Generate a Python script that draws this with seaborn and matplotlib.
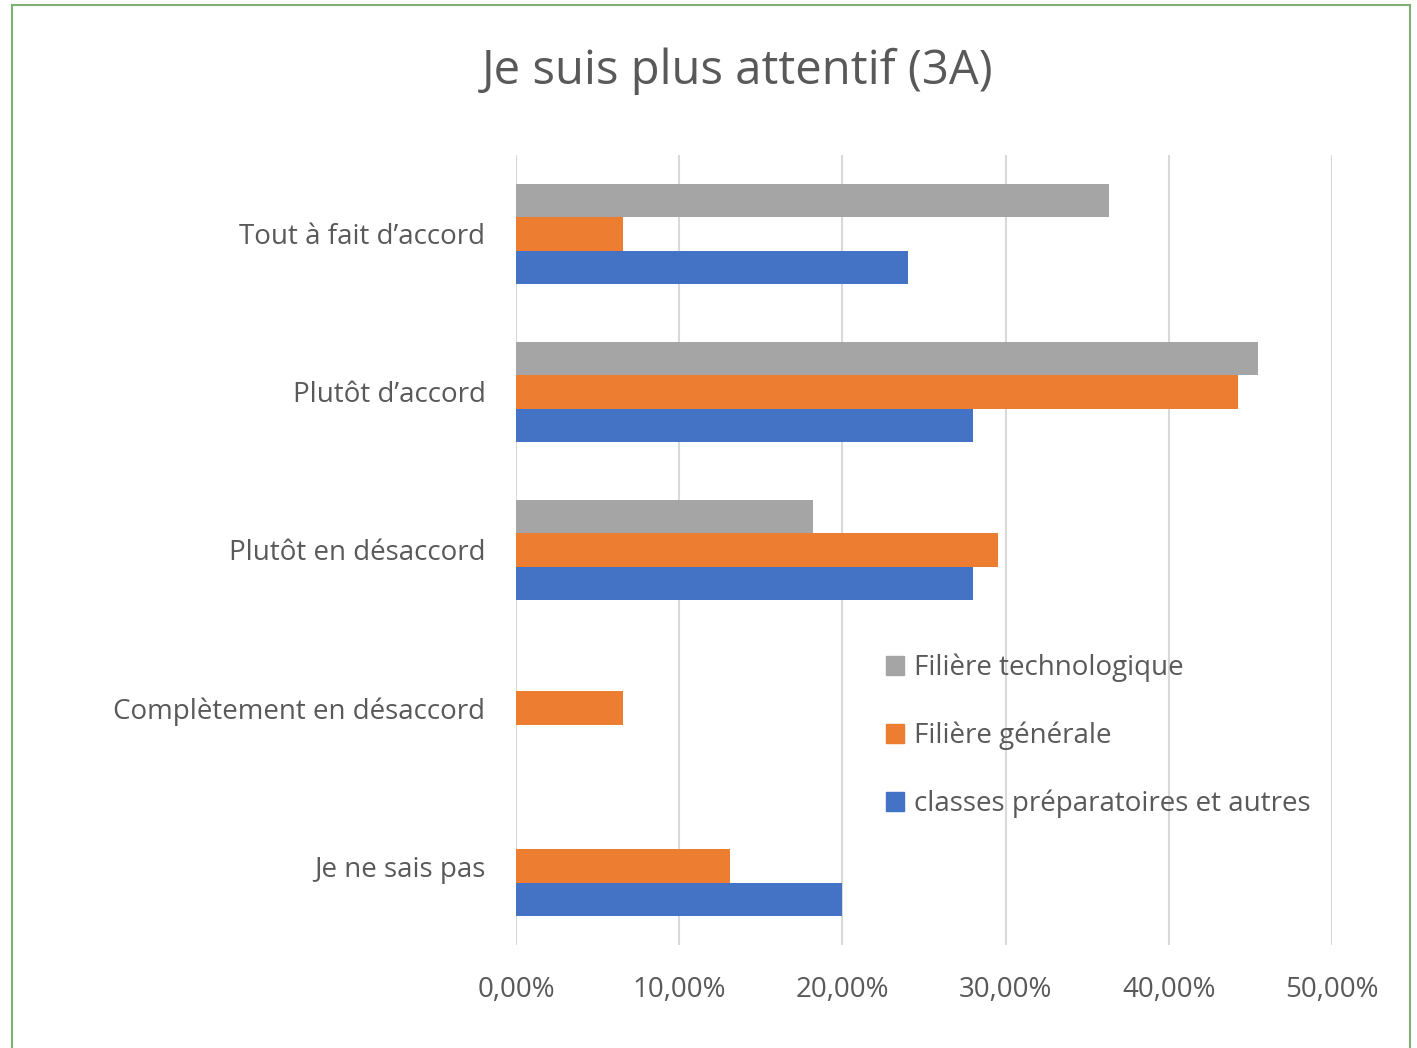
import pandas as pd
import matplotlib.pyplot as plt
import seaborn as sns
from matplotlib.patches import Rectangle
from matplotlib.ticker import FuncFormatter

# Données (en %)
reponses = ['Tout à fait d’accord', 'Plutôt d’accord', 'Plutôt en désaccord',
            'Complètement en désaccord', 'Je ne sais pas']
series = ['Filière technologique', 'Filière générale', 'classes préparatoires et autres']
techno = [36.36, 45.45, 18.18, 0.0, 0.0]
generale = [6.56, 44.26, 29.51, 6.56, 13.11]
prepa = [24.0, 28.0, 28.0, 0.0, 20.0]
couleurs = ['#A5A5A5', '#ED7D31', '#4472C4']
ticks_x = [0, 10, 20, 30, 40, 50]

# Tableau long pour seaborn
df = pd.DataFrame({
    'reponse': reponses * 3,
    'serie': [series[0]] * 5 + [series[1]] * 5 + [series[2]] * 5,
    'valeur': techno + generale + prepa,
})

sns.set_theme(style='white')
plt.rcParams['font.family'] = ['Open Sans', 'DejaVu Sans']
texte = '#595959'

fig = plt.figure(figsize=(14.17, 10.48), dpi=100)
ax = fig.add_axes([516 / 1417, 1 - 945 / 1048, (1332 - 516) / 1417, (945 - 155) / 1048])

sns.barplot(data=df, x='valeur', y='reponse', hue='serie', order=reponses,
            hue_order=series, palette=couleurs, orient='h', width=0.627,
            saturation=1, gap=0, linewidth=0, ax=ax, legend=False)

ax.set_xlim(0, 50)
ax.set_ylim(4.5, -0.5)
ax.set_xticks(ticks_x)
ax.xaxis.set_major_formatter(FuncFormatter(lambda v, p: f'{v:.2f}%'.replace('.', ',')))
ax.set_xlabel('')
ax.set_ylabel('')

# Grille verticale grise
ax.grid(axis='x', color='#D9D9D9', linewidth=1.5)
ax.set_axisbelow(True)
for s in ax.spines.values():
    s.set_visible(False)
ax.tick_params(axis='x', length=0, pad=22, labelsize=20, labelcolor=texte)
ax.tick_params(axis='y', length=0, pad=22, labelsize=20, labelcolor=texte)

# Titre
fig.text(738 / 1417, 1 - 71 / 1048, 'Je suis plus attentif (3A)', ha='center', va='center',
         fontsize=34, color=texte)

# Légende
poignees = [Rectangle((0, 0), 1, 1, color=c) for c in couleurs]
leg = fig.legend(poignees, series, loc='upper left', bbox_to_anchor=(861 / 1417, 1 - 629 / 1048),
                 frameon=False, fontsize=20, labelcolor=texte, handlelength=0.65,
                 handleheight=0.65, handletextpad=0.35, labelspacing=1.42)

# Cadre vert autour du graphique
fig.patches.append(Rectangle((12 / 1417, -0.01), (1410 - 12) / 1417, 1 - 5 / 1048 + 0.01,
                             transform=fig.transFigure, fill=False, edgecolor='#7DB072',
                             linewidth=1.5))

fig.savefig('out.png', dpi=100, facecolor='white')
